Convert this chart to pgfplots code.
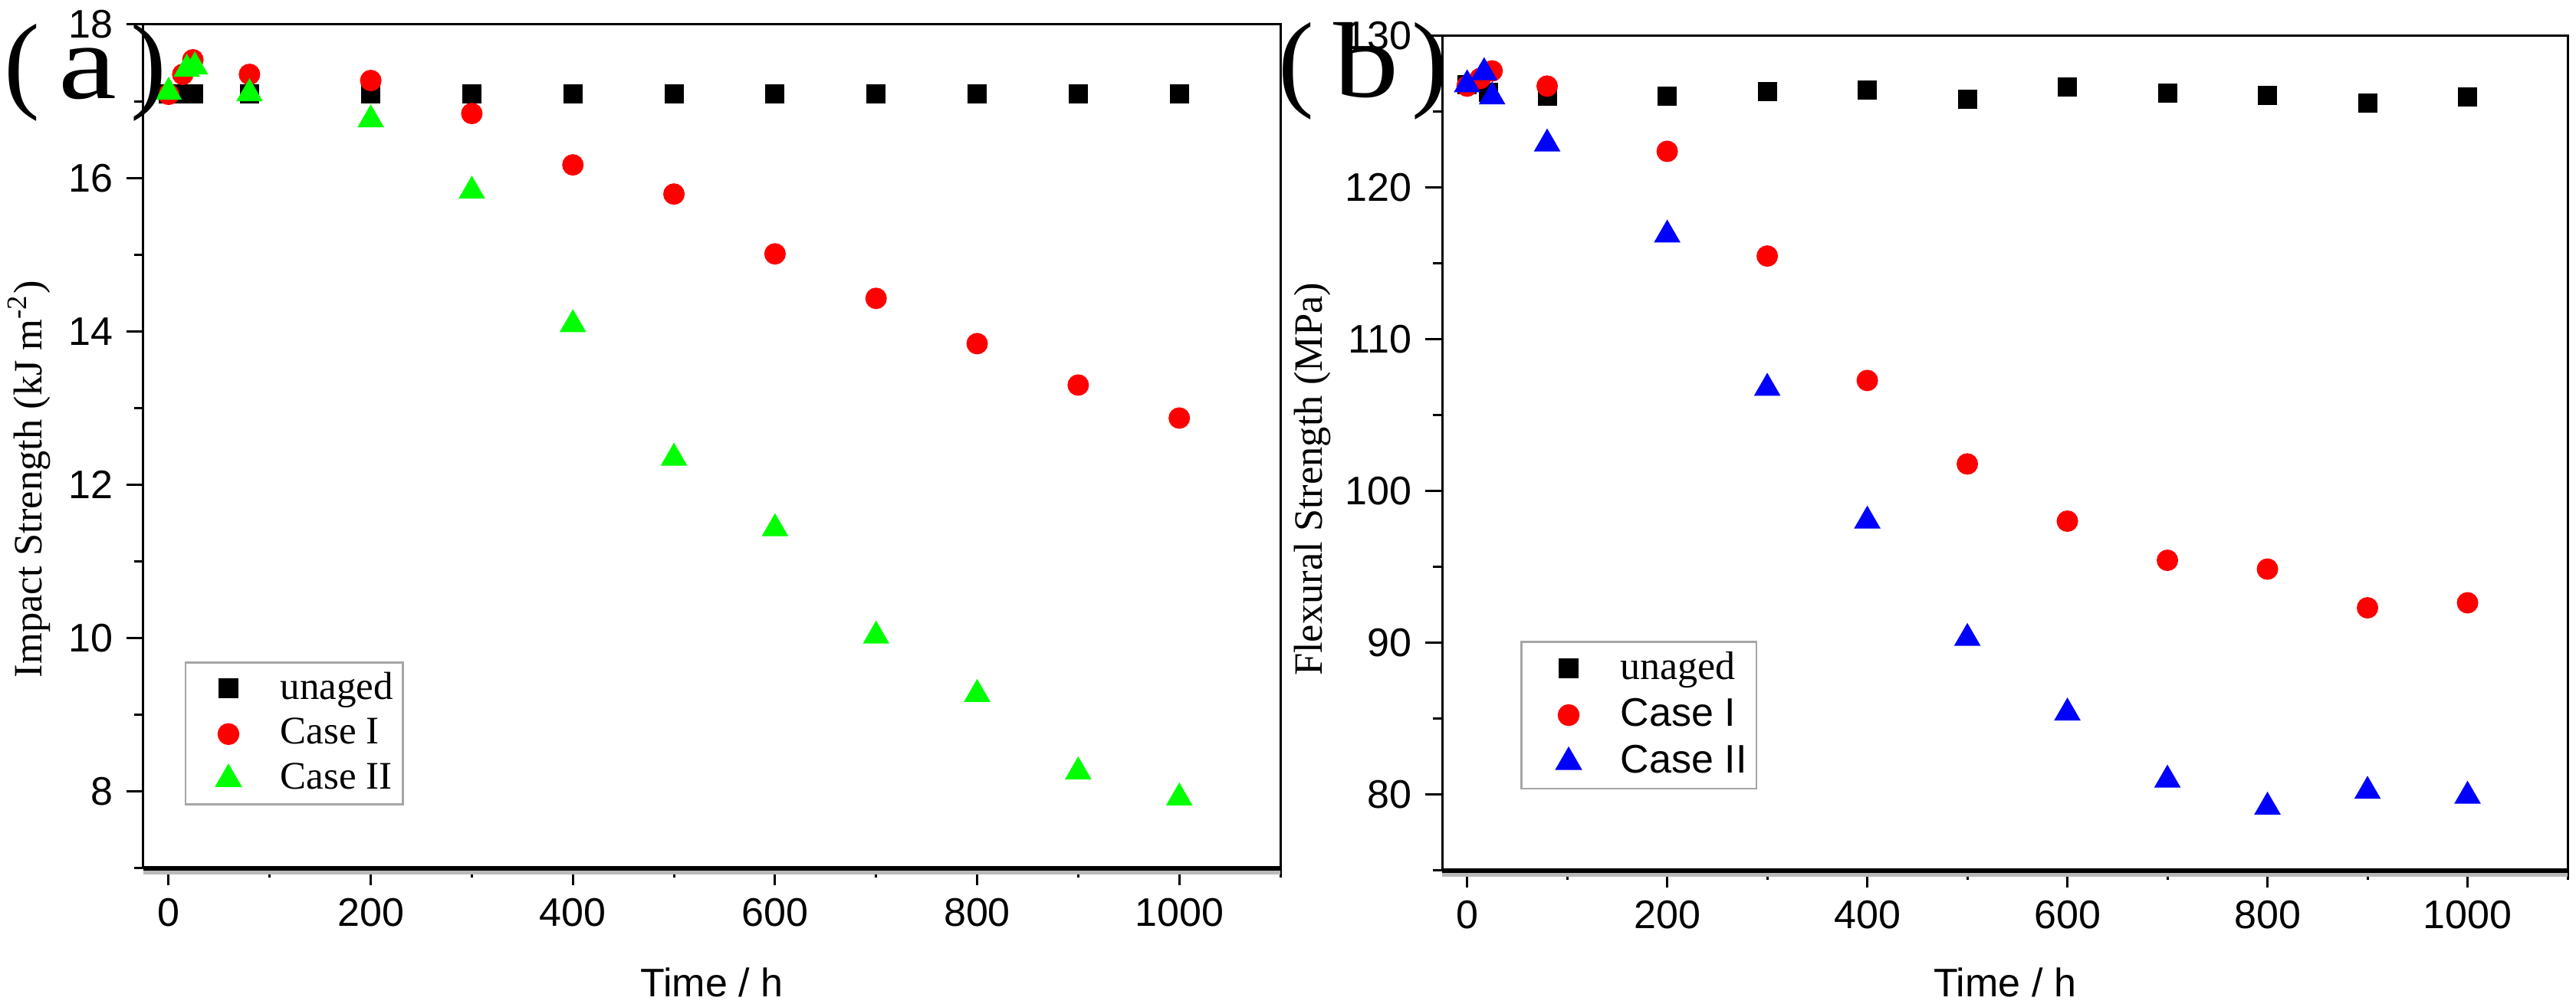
\documentclass[border=0pt]{standalone}
\usepackage{fontspec}
\setmainfont{Liberation Sans}
\newfontfamily\serif{Liberation Serif}
\usepackage{pgfplots}
\pgfplotsset{compat=1.18}
\definecolor{cRed}{RGB}{255,0,0}
\definecolor{cGreen}{RGB}{0,255,0}
\definecolor{cBlue}{RGB}{0,0,255}
\pgfplotsset{
 myaxis/.style={
  scale only axis, xmin=-25, xmax=1100,
  xtick={0,200,...,1000}, minor xtick={100,300,...,1100},
  tick align=outside, tick pos=left,
  major tick length=4.4pt, minor tick length=2.4pt,
  tick style={black, line width=0.6pt},
  axis line style={line width=0.6pt},
  tick label style={font=\fontsize{10.4}{12}\selectfont},
  /pgf/number format/assume math mode=true,
  /pgf/number format/1000 sep={},
  xlabel={Time / h},
  xlabel style={font=\fontsize{10.4}{12}\selectfont, anchor=center},
  ylabel style={font=\serif\fontsize{10.5}{12}\selectfont, anchor=center},
  clip=false,
  legend cell align=left,
 },
 sq/.style={only marks, mark=square*, mark size=2.3pt, black, mark options={fill=black, draw=black}},
 ci/.style={only marks, mark=*, mark size=2.6pt, cRed, mark options={fill=cRed, draw=cRed}},
}
\begin{document}
\begin{tikzpicture}
\useasboundingbox (0,0) rectangle (672pt,262pt);
% ---------------- panel (a)
\begin{axis}[myaxis,
  at={(37.4pt,35.4pt)}, anchor=south west,
  width=296.6pt, height=220.2pt,
  ymin=7, ymax=18, ytick={8,10,...,18}, minor ytick={7,9,...,17},
  ylabel={Impact Strength (kJ m\textsuperscript{-2})},
  xlabel style={at={(axis description cs:0.5,-0.1353)}},
  ylabel style={at={(axis description cs:-0.1005,0.4614)}},
  legend style={at={(0.0364,0.0745)}, anchor=south west, draw=gray!70, line width=0.5pt,
    inner xsep=1pt, inner ysep=1pt, column sep=0pt, row sep=0.5pt,
    nodes={inner sep=1.5pt}, font=\serif\fontsize{10.2}{12}\selectfont},
  legend image code/.code={\path (0pt,0pt) (21.7pt,0pt); \draw[#1] plot coordinates {(9.9pt,0pt)};},
]
\addplot[sq] coordinates {(0,17.1) (15,17.1) (25,17.1) (80,17.1) (200,17.1) (300,17.1) (400,17.1) (500,17.1) (600,17.1) (700,17.1) (800,17.1) (900,17.1) (1000,17.1)};
\addlegendentry{unaged}
\addplot[ci] coordinates {(0,17.09) (14,17.35) (24,17.54) (80,17.35) (200,17.27) (300,16.84) (400,16.17) (500,15.79) (600,15.01) (700,14.43) (800,13.84) (900,13.30) (1000,12.87)};
\addlegendentry{Case I}
\addplot[only marks, mark=triangle*, mark size=3.6pt, cGreen, mark options={fill=cGreen, draw=cGreen}] coordinates {(0,17.12) (18,17.42) (26,17.45) (80,17.1) (200,16.76) (300,15.83) (400,14.09) (500,12.35) (600,11.43) (700,10.03) (800,9.27) (900,8.26) (1000,7.92)};
\addlegendentry{Case II}
\draw[gray!55, line width=1pt] ([yshift=-1.1pt]rel axis cs:0,0) -- ([yshift=-1.1pt]rel axis cs:1,0);
\draw[black, line width=1.1pt] (rel axis cs:0,0) -- (rel axis cs:1,0);
\end{axis}
% ---------------- panel (b)
\begin{axis}[myaxis,
  at={(376.2pt,34.8pt)}, anchor=south west,
  width=293.6pt, height=217.8pt,
  ymin=75, ymax=130, ytick={80,90,...,130}, minor ytick={75,85,...,125},
  ylabel={Flexural Strength (MPa)},
  xlabel style={at={(axis description cs:0.5,-0.134)}},
  ylabel style={at={(axis description cs:-0.1151,0.469)}},
  legend style={at={(0.0695,0.0973)}, anchor=south west, draw=gray!70, line width=0.5pt,
    inner xsep=1pt, inner ysep=1pt, column sep=0pt, row sep=0.5pt,
    nodes={inner sep=1.5pt}, font=\fontsize{10.4}{12}\selectfont},
  legend image code/.code={\path (0pt,0pt) (22.9pt,0pt); \draw[#1] plot coordinates {(11.1pt,0pt)};},
]
\addplot[sq] coordinates {(0,126.8) (21,126.3) (80,126.06) (200,126.03) (300,126.34) (400,126.46) (500,125.82) (600,126.66) (700,126.24) (800,126.08) (900,125.6) (1000,125.98)};
\addlegendentry{\serif unaged}
\addplot[ci] coordinates {(0,126.7) (13,127.2) (25,127.7) (80,126.7) (200,122.4) (300,115.5) (400,107.3) (500,101.8) (600,98.03) (700,95.45) (800,94.87) (900,92.32) (1000,92.65)};
\addlegendentry{Case I}
\addplot[only marks, mark=triangle*, mark size=3.6pt, cBlue, mark options={fill=cBlue, draw=cBlue}] coordinates {(0,126.8) (17,127.6) (25,126.0) (80,122.9) (200,116.9) (300,106.8) (400,98.05) (500,90.32) (600,85.4) (700,80.98) (800,79.2) (900,80.24) (1000,79.92)};
\addlegendentry{Case II}
\draw[gray!55, line width=1pt] ([yshift=-1.1pt]rel axis cs:0,0) -- ([yshift=-1.1pt]rel axis cs:1,0);
\draw[black, line width=1.1pt] (rel axis cs:0,0) -- (rel axis cs:1,0);
\end{axis}
% panel letters
\node[font=\serif\fontsize{28}{30}\selectfont, inner sep=0pt] at (22.2pt,243pt) {(\kern5pt\scalebox{1.22}[1]{a}\kern3.5pt)};
\node[font=\serif\fontsize{28}{30}\selectfont, inner sep=0pt] at (355.6pt,243.4pt) {(\kern5pt\scalebox{1.22}[1]{b}\kern3.5pt)};
\end{tikzpicture}
\end{document}
